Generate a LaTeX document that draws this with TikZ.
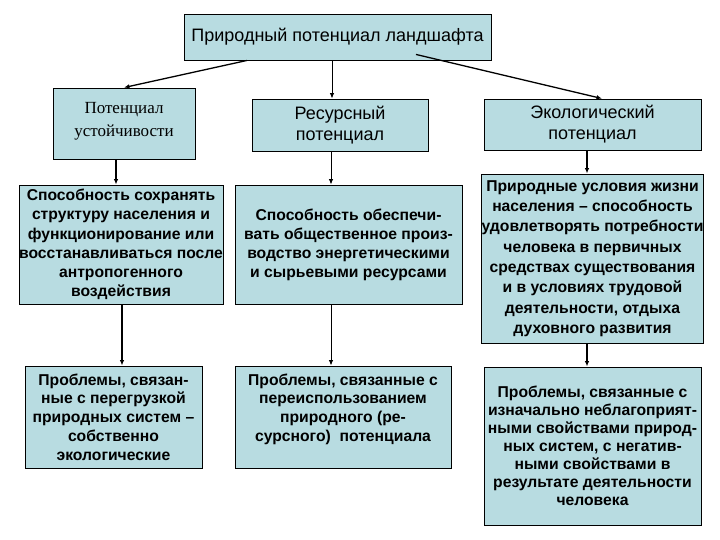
\documentclass[tikz,border=0pt]{standalone}
\usepackage{fontspec}
\setmainfont{Liberation Sans}
\newfontfamily\serifrm{Liberation Serif}
\usetikzlibrary{arrows.meta}
\definecolor{boxfill}{RGB}{184,220,225}

\begin{document}
\begin{tikzpicture}[x=1pt, y=-1pt, >={Latex[length=5.5pt,width=4.5pt]},
	box/.style={draw=black, line width=0.9pt, fill=boxfill, align=center, inner sep=0pt},
	headtext/.style={font=\fontsize{18}{21}\selectfont},
	bodytext/.style={font=\fontsize{15.7}{#1}\selectfont\bfseries},
	bodytext/.default=19.3,
	thinarrow/.style={->, line width=0.9pt},
	thickarrow/.style={->, line width=1.6pt}]
	\useasboundingbox (0,0) rectangle (720,540);
	\node[box, headtext, minimum width=307pt, minimum height=46pt] (top) at (337.5,37) {Природный потенциал ландшафта};
	\node[box, font=\serifrm\fontsize{17}{23}\selectfont, minimum width=142pt, minimum height=71pt, text depth=9pt] (pot) at (124,123.5) {Потенциал\\устойчивости};
	\node[box, headtext, minimum width=176pt, minimum height=52pt] (res) at (340,125) {Ресурсный\\потенциал};
	\node[box, headtext, minimum width=217pt, minimum height=51pt] (eco) at (592.5,124.5) {Экологический\\потенциал};
	\node[box, bodytext, minimum width=204pt, minimum height=119pt] (cap1) at (121,244.5) {Способность сохранять\\структуру населения и\\функционирование или\\восстанавливаться после\\антропогенного\\воздействия};
	\node[box, bodytext=19, minimum width=227pt, minimum height=119pt] (cap2) at (348.5,244.5) {Способность обеспечи-\\вать общественное произ-\\водство энергетическими\\и сырьевыми ресурсами};
	\node[box, bodytext=20.3, minimum width=217pt, minimum height=169pt] (cap3) at (592.5,258.5) {Природные условия жизни\\населения -- способность\\удовлетворять потребности\\человека в первичных\\средствах существования\\и в условиях трудовой\\деятельности, отдыха\\духовного развития};
	\node[box, bodytext=18.8, minimum width=177pt, minimum height=102pt] (prob1) at (113.5,417) {Проблемы, связан-\\ные с перегрузкой\\природных систем --\\собственно\\экологические};
	\node[box, bodytext=18.8, minimum width=216pt, minimum height=102pt] (prob2) at (343,417) {Проблемы, связанные с\\переиспользованием\\природного (ре-\\сурсного)~~потенциала\\\mbox{}};
	\node[box, bodytext=18, minimum width=217pt, minimum height=158pt] (prob3) at (592.5,446) {Проблемы, связанные с\\изначально неблагоприят-\\ными свойствами природ-\\ных систем, с негатив-\\ными свойствами в\\результате деятельности\\человека};
	\draw[thickarrow, line width=1.3pt] ([xshift=-90.5pt]top.south) -- (pot.north);
	\draw[thinarrow] ([xshift=-5.5pt]top.south) -- ([xshift=-5.5pt]top.south |- res.north);
	\draw[thickarrow, line width=1.3pt] ([xshift=78.5pt, yshift=6pt]top.south) -- ([xshift=9.5pt]eco.north);
	\draw[thickarrow] ([xshift=-8pt]pot.south) -- ([xshift=-8pt]pot.south |- cap1.north);
	\draw[thinarrow] ([xshift=-9pt]res.south) -- ([xshift=-9pt]res.south |- cap2.north);
	\draw[thickarrow] ([xshift=-5.5pt]eco.south) -- ([xshift=-5.5pt]eco.south |- cap3.north);
	\draw[thickarrow] ([xshift=1pt]cap1.south) -- ([xshift=1pt]cap1.south |- prob1.north);
	\draw[thinarrow] ([xshift=-17.5pt]cap2.south) -- ([xshift=-17.5pt]cap2.south |- prob2.north);
	\draw[thickarrow] ([xshift=-5.5pt]cap3.south) -- ([xshift=-5.5pt]cap3.south |- prob3.north);
\end{tikzpicture}
\end{document}
